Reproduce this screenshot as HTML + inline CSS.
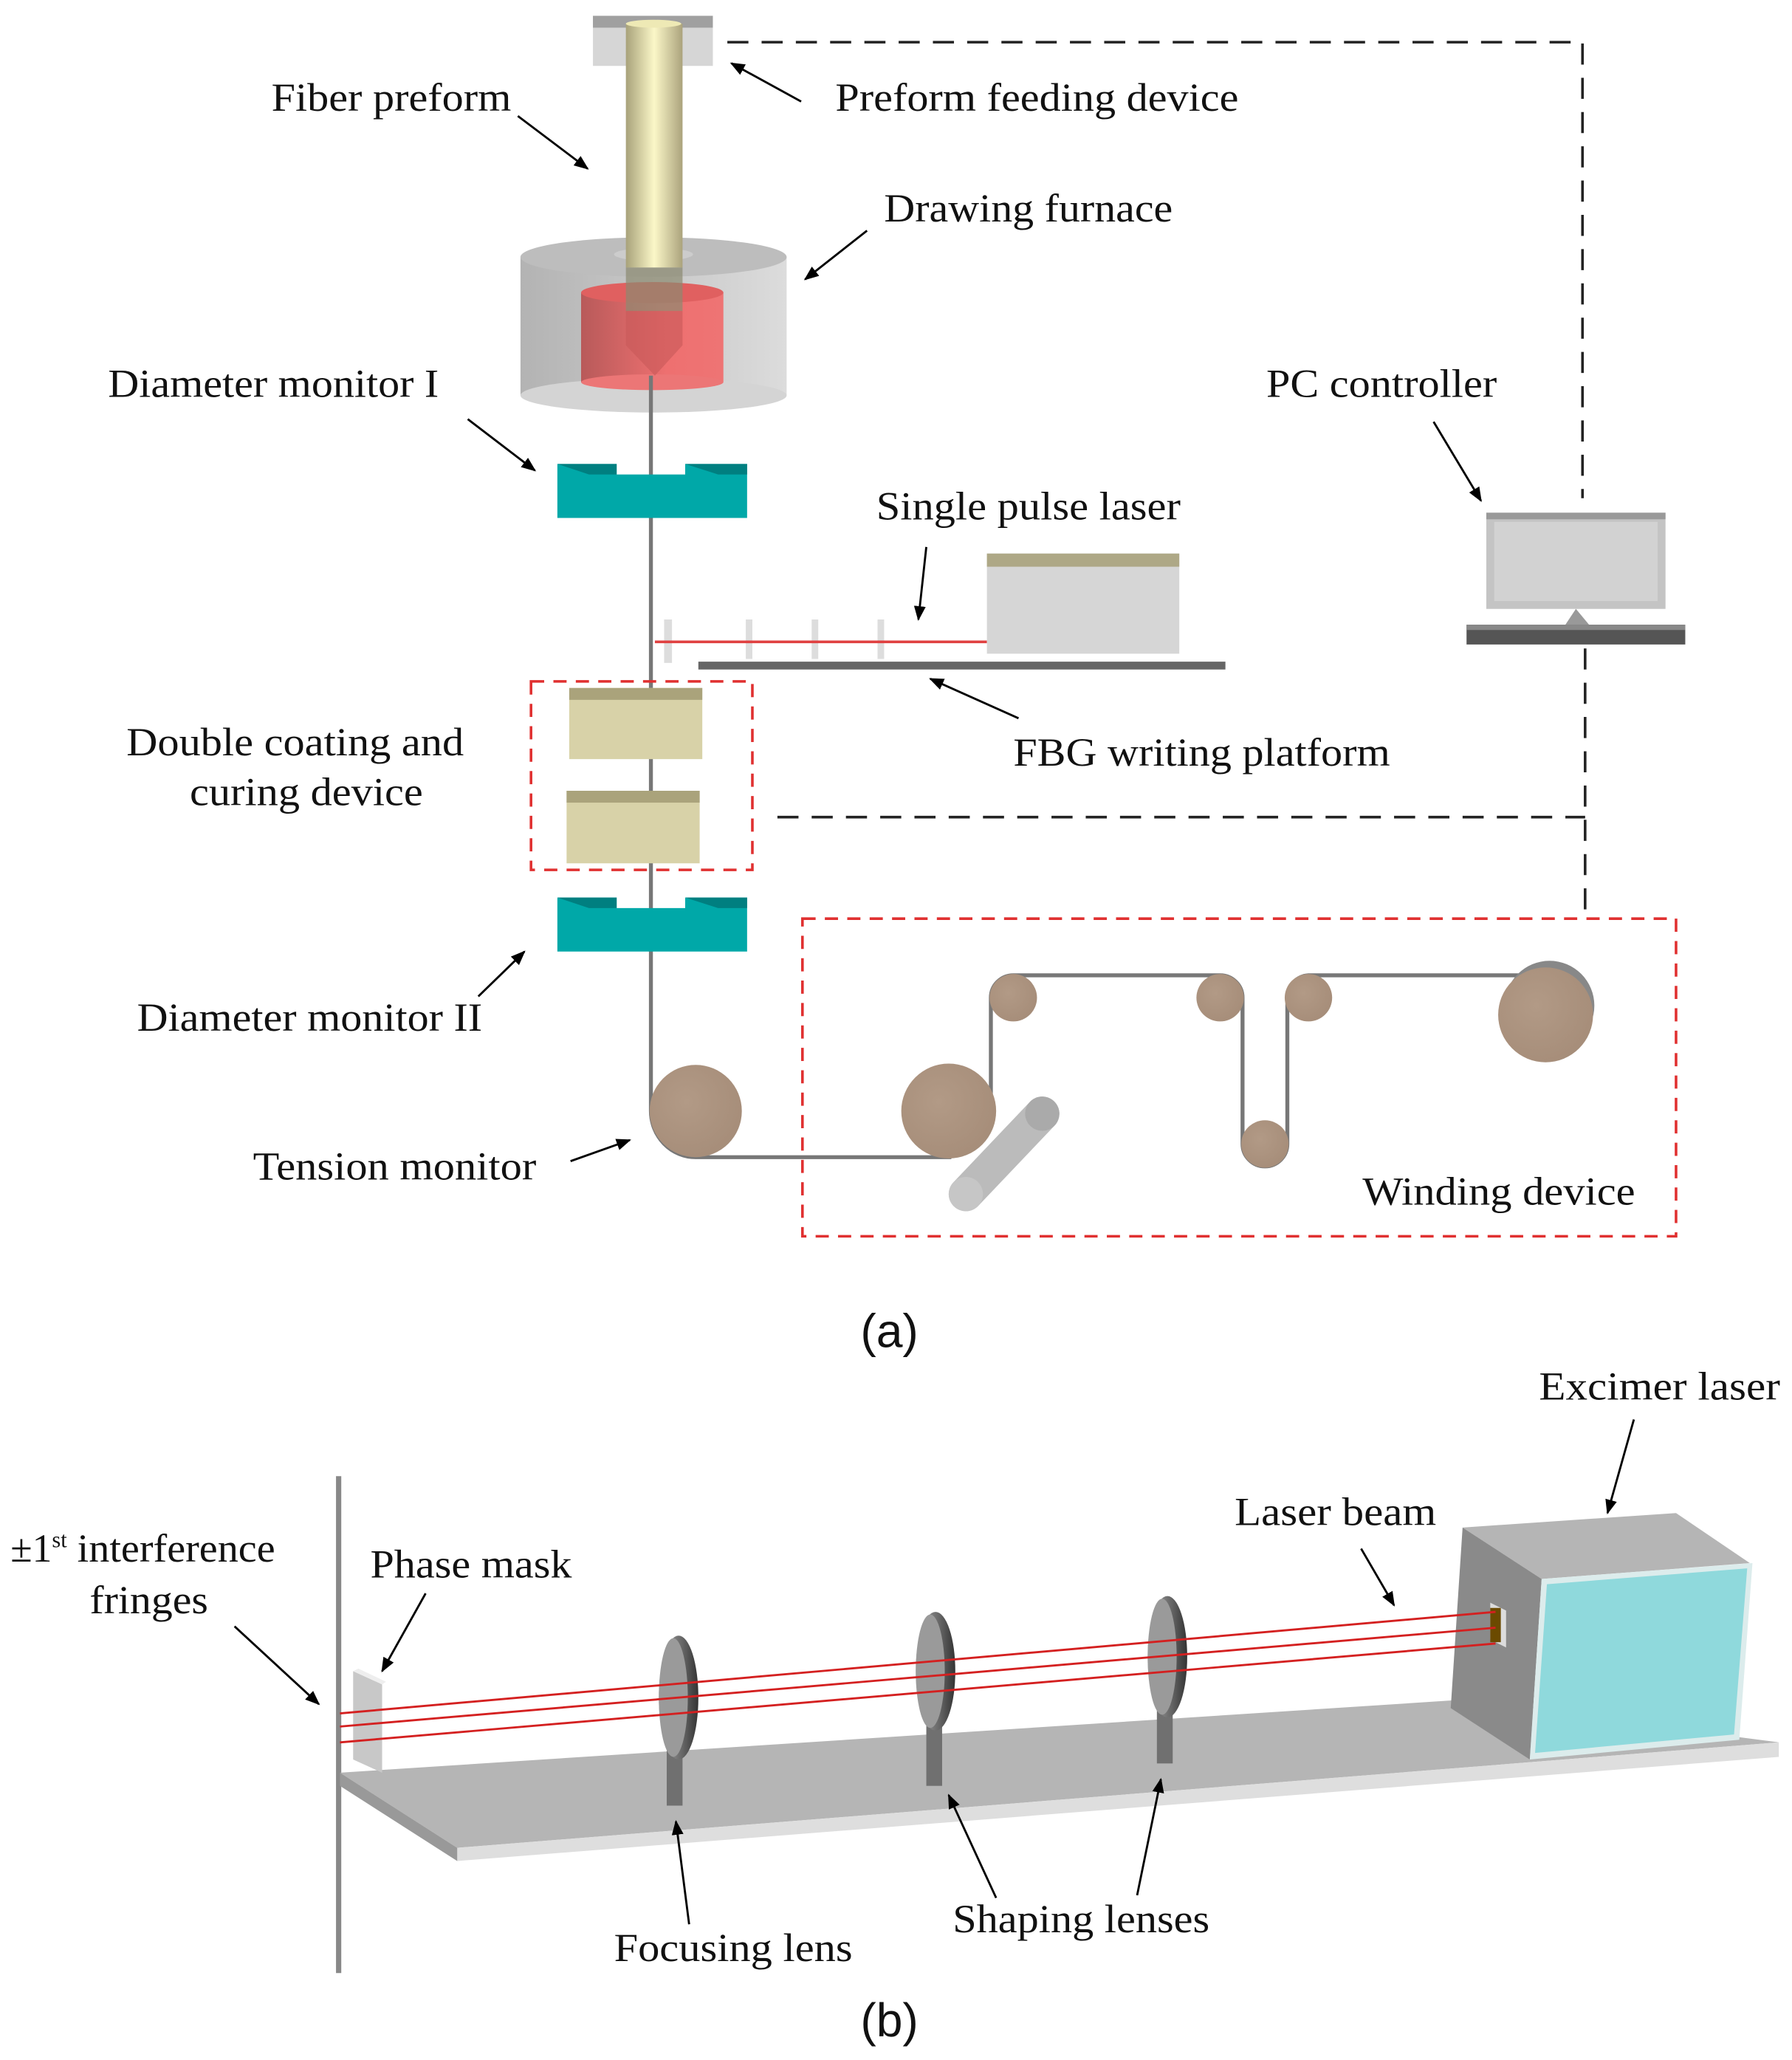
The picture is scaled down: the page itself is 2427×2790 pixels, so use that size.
<!DOCTYPE html>
<html><head><meta charset="utf-8"><style>
html,body{margin:0;padding:0;background:#fff;}
svg{display:block;}
text{font-family:"Liberation Serif",serif;font-size:30px;fill:#111;}
.cap{font-family:"Liberation Sans",sans-serif;font-size:36px;}
</style></head><body>
<svg width="2427" height="2790" viewBox="0 0 1360 1563" preserveAspectRatio="none" xmlns="http://www.w3.org/2000/svg">
<defs>
<marker id="ah" viewBox="0 0 10 10" refX="9" refY="5" markerWidth="7" markerHeight="7" orient="auto"><path d="M0,1 L10,5 L0,9 z" fill="#000"/></marker>
<linearGradient id="rod" x1="0" x2="1"><stop offset="0" stop-color="#a8a27a"/><stop offset="0.5" stop-color="#fbf7c8"/><stop offset="1" stop-color="#aba37c"/></linearGradient>
<linearGradient id="furn" x1="0" x2="1"><stop offset="0" stop-color="#b3b3b3"/><stop offset="1" stop-color="#dcdcdc"/></linearGradient>
<linearGradient id="red" x1="0" x2="1"><stop offset="0" stop-color="#b85a5a"/><stop offset="0.6" stop-color="#ee7070"/><stop offset="1" stop-color="#ee7474"/></linearGradient>
<radialGradient id="wheel" cx="0.4" cy="0.4" r="0.7"><stop offset="0" stop-color="#b29a86"/><stop offset="1" stop-color="#a58c78"/></radialGradient>
<linearGradient id="lens" x1="0" x2="1"><stop offset="0" stop-color="#aaa"/><stop offset="0.6" stop-color="#666"/><stop offset="1" stop-color="#333"/></linearGradient>
</defs>

<g stroke="#222" stroke-width="2" fill="none" stroke-dasharray="16,10">
<path d="M552,32 H1201 V378"/>
<path d="M1203,492 V697"/>
<path d="M590,620 H1203"/>
</g>

<rect x="450" y="12" width="91" height="38" fill="#d6d6d6"/>
<rect x="450" y="12" width="91" height="9" fill="#a0a0a0"/>
<rect x="395" y="195" width="202" height="105" fill="url(#furn)"/>
<ellipse cx="496" cy="300" rx="101" ry="13" fill="#d4d4d4"/>
<ellipse cx="496" cy="195" rx="101" ry="15" fill="#bdbdbd"/>
<ellipse cx="496" cy="193" rx="30" ry="5" fill="#ccc"/>
<rect x="441" y="222" width="108" height="68" fill="url(#red)"/>
<ellipse cx="495" cy="222" rx="54" ry="8" fill="#e06060"/>
<ellipse cx="495" cy="290" rx="54" ry="6" fill="#ec7676"/>
<rect x="475" y="18" width="43" height="185" fill="url(#rod)"/>
<ellipse cx="496" cy="18" rx="21" ry="3" fill="#eee9b5"/>
<rect x="475" y="203" width="43" height="33" fill="#8c8a70" opacity="0.7"/>
<path d="M475,236 H518 V262 L497,285 L475,262 z" fill="#c85858" opacity="0.6"/>

<path d="M494,285 V843 A34,35 0 0 0 528,878 H722" stroke="#777" stroke-width="3" fill="none"/>

<path d="M423,352 H468 V360 H520 V352 H567 V393 H423 z" fill="#00a8a8"/>
<path d="M423,352 H468 V360 H447 z M520,352 H567 V360 H545 z" fill="#007f80"/>
<path d="M423,681 H468 V689 H520 V681 H567 V722 H423 z" fill="#00a8a8"/>
<path d="M423,681 H468 V689 H447 z M520,681 H567 V689 H545 z" fill="#007f80"/>

<path d="M432,522 H533 V576 H432 z" fill="#d8d2a8"/>
<rect x="432" y="522" width="101" height="9" fill="#aaa37b"/>
<path d="M430,600 H531 V655 H430 z" fill="#d8d2a8"/>
<rect x="430" y="600" width="101" height="9" fill="#aaa37b"/>
<rect x="403" y="517" width="168" height="143" fill="none" stroke="#e03030" stroke-width="2" stroke-dasharray="10,7"/>

<line x1="530" y1="505" x2="930" y2="505" stroke="#666" stroke-width="6"/>
<g fill="#ddd"><rect x="504" y="470" width="6" height="33"/><rect x="566" y="470" width="5" height="30"/><rect x="616" y="470" width="5" height="30"/><rect x="666" y="470" width="5" height="30"/></g>
<line x1="497" y1="487" x2="749" y2="487" stroke="#e04040" stroke-width="2"/>
<rect x="749" y="420" width="146" height="76" fill="#d6d6d6"/>
<rect x="749" y="420" width="146" height="10" fill="#aea886"/>

<rect x="1128" y="389" width="136" height="73" fill="#c4c4c4"/>
<rect x="1128" y="389" width="136" height="5" fill="#999"/>
<rect x="1134" y="396" width="124" height="60" fill="#d2d2d2"/>
<path d="M1188,474 L1196,462 L1206,474 z" fill="#999"/>
<rect x="1113" y="474" width="166" height="15" fill="#555"/>
<rect x="1113" y="474" width="166" height="4" fill="#888"/>

<rect x="609" y="697" width="663" height="241" fill="none" stroke="#e03030" stroke-width="2" stroke-dasharray="10,7"/>
<path d="M752,843 V757 A17,17 0 0 1 769,740 H926 A17,17 0 0 1 943,757 V868 A17,17 0 0 0 977,868 V757 A17,17 0 0 1 993,740 H1165" stroke="#777" stroke-width="3" fill="none"/>
<line x1="733" y1="906" x2="791" y2="845" stroke="#bbb" stroke-width="26" stroke-linecap="round"/>
<circle cx="733" cy="906" r="13" fill="#c6c6c6"/>
<circle cx="791" cy="845" r="13" fill="#aaa"/>
<circle cx="720" cy="843" r="36" fill="url(#wheel)"/>
<circle cx="528" cy="843" r="35" fill="url(#wheel)"/>
<circle cx="769" cy="757" r="18" fill="url(#wheel)"/>
<circle cx="926" cy="757" r="18" fill="url(#wheel)"/>
<circle cx="993" cy="757" r="18" fill="url(#wheel)"/>
<circle cx="960" cy="868" r="18" fill="url(#wheel)"/>
<circle cx="1176" cy="763" r="34" fill="#888"/>
<circle cx="1173" cy="770" r="36" fill="url(#wheel)"/>

<g stroke="#000" stroke-width="1.6" marker-end="url(#ah)">
<line x1="393" y1="88" x2="446" y2="128"/>
<line x1="608" y1="77" x2="555" y2="48"/>
<line x1="658" y1="175" x2="611" y2="212"/>
<line x1="355" y1="318" x2="406" y2="357"/>
<line x1="1088" y1="320" x2="1124" y2="380"/>
<line x1="703" y1="415" x2="697" y2="470"/>
<line x1="773" y1="545" x2="706" y2="515"/>
<line x1="363" y1="756" x2="398" y2="722"/>
<line x1="433" y1="881" x2="478" y2="865"/>
</g>

<text x="206" y="84" textLength="182" lengthAdjust="spacingAndGlyphs">Fiber preform</text>
<text x="634" y="84" textLength="306" lengthAdjust="spacingAndGlyphs">Preform feeding device</text>
<text x="671" y="168" textLength="219" lengthAdjust="spacingAndGlyphs">Drawing furnace</text>
<text x="82" y="301" textLength="251" lengthAdjust="spacingAndGlyphs">Diameter monitor I</text>
<text x="961" y="301" textLength="175" lengthAdjust="spacingAndGlyphs">PC controller</text>
<text x="665" y="394" textLength="231" lengthAdjust="spacingAndGlyphs">Single pulse laser</text>
<text x="96" y="573" textLength="256" lengthAdjust="spacingAndGlyphs">Double coating and</text>
<text x="144" y="611" textLength="177" lengthAdjust="spacingAndGlyphs">curing device</text>
<text x="769" y="581" textLength="286" lengthAdjust="spacingAndGlyphs">FBG writing platform</text>
<text x="104" y="782" textLength="262" lengthAdjust="spacingAndGlyphs">Diameter monitor II</text>
<text x="192" y="895" textLength="215" lengthAdjust="spacingAndGlyphs">Tension monitor</text>
<text x="1034" y="914" textLength="207" lengthAdjust="spacingAndGlyphs">Winding device</text>
<text x="653" y="1022" class="cap">(a)</text>

<line x1="257" y1="1120" x2="257" y2="1497" stroke="#888" stroke-width="4"/>
<path d="M258,1345 L1105,1290 L1350,1322 L347,1402 z" fill="#b5b5b5"/>
<path d="M347,1402 L1350,1322 L1350,1333 L347,1412 z" fill="#dedede"/>
<path d="M258,1345 L347,1402 L347,1412 L258,1355 z" fill="#999"/>
<path d="M1110,1159 L1272,1148 L1328,1186 L1170,1198 z" fill="#b5b5b5"/>
<path d="M1110,1159 L1170,1198 L1161,1335 L1101,1296 z" fill="#8a8a8a"/>
<path d="M1170,1198 L1330,1186 L1320,1320 L1161,1335 z" fill="#dcecec"/>
<path d="M1174,1202 L1326,1190 L1316,1316 L1165,1330 z" fill="#8fd9dc"/>
<path d="M1131,1216 L1143,1222 L1143,1250 L1131,1244 z" fill="#ddd"/>
<rect x="1131" y="1220" width="8" height="26" fill="#6b4a00"/>
<path d="M268,1268 L290,1278 L290,1345 L268,1335 z" fill="#c8c8c8"/>
<path d="M268,1268 L272,1266 L293,1276 L290,1278 z" fill="#eee"/>
<rect x="506" y="1310" width="12" height="60" fill="#707070"/>
<rect x="703" y="1290" width="12" height="65" fill="#707070"/>
<rect x="878" y="1275" width="12" height="63" fill="#707070"/>
<ellipse cx="515" cy="1288" rx="15" ry="47" fill="url(#lens)"/>
<ellipse cx="511" cy="1288" rx="11" ry="45" fill="#9a9a9a"/>
<ellipse cx="710" cy="1268" rx="15" ry="45" fill="url(#lens)"/>
<ellipse cx="706" cy="1268" rx="11" ry="43" fill="#9a9a9a"/>
<ellipse cx="886" cy="1257" rx="15" ry="46" fill="url(#lens)"/>
<ellipse cx="882" cy="1257" rx="11" ry="44" fill="#9a9a9a"/>
<g stroke="#d42020" stroke-width="1.6">
<line x1="1135" y1="1223" x2="258" y2="1300"/>
<line x1="1135" y1="1235" x2="258" y2="1310"/>
<line x1="1135" y1="1247" x2="258" y2="1322"/>
</g>
<g stroke="#000" stroke-width="1.6" marker-end="url(#ah)">
<line x1="178" y1="1234" x2="242" y2="1293"/>
<line x1="323" y1="1209" x2="290" y2="1268"/>
<line x1="523" y1="1460" x2="513" y2="1382"/>
<line x1="756" y1="1440" x2="720" y2="1362"/>
<line x1="863" y1="1438" x2="881" y2="1350"/>
<line x1="1033" y1="1175" x2="1058" y2="1218"/>
<line x1="1240" y1="1077" x2="1220" y2="1148"/>
</g>
<text x="8" y="1185">±1<tspan font-size="17" dy="-11">st</tspan><tspan dy="11" textLength="158" lengthAdjust="spacingAndGlyphs"> interference</tspan></text>
<text x="68" y="1224" textLength="90" lengthAdjust="spacingAndGlyphs">fringes</text>
<text x="281" y="1197" textLength="153" lengthAdjust="spacingAndGlyphs">Phase mask</text>
<text x="937" y="1157" textLength="153" lengthAdjust="spacingAndGlyphs">Laser beam</text>
<text x="1168" y="1062" textLength="183" lengthAdjust="spacingAndGlyphs">Excimer laser</text>
<text x="466" y="1488" textLength="181" lengthAdjust="spacingAndGlyphs">Focusing lens</text>
<text x="723" y="1466" textLength="195" lengthAdjust="spacingAndGlyphs">Shaping lenses</text>
<text x="653" y="1545" class="cap">(b)</text>
</svg>
</body></html>
